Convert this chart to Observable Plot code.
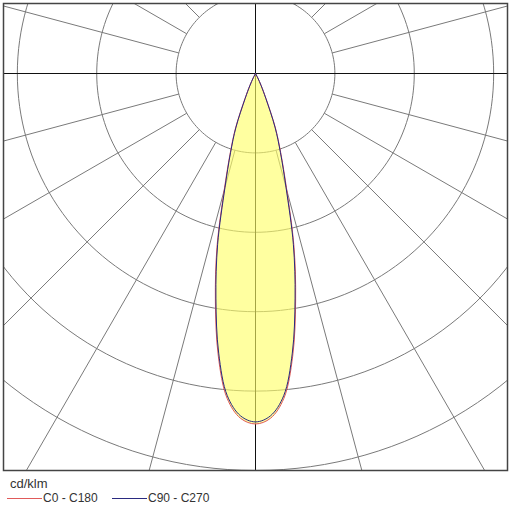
<!DOCTYPE html>
<html>
<head>
<meta charset="utf-8">
<script src="https://cdn.jsdelivr.net/npm/d3@7"></script>
<script src="https://cdn.jsdelivr.net/npm/@observablehq/plot@0.6"></script>
<style>
  html, body { margin: 0; padding: 0; background: #fff; }
  #wrap { width: 510px; position: relative; font-family: "Liberation Sans", Arial, sans-serif; }
  #legend { position: relative; height: 36px; color: #333; }
  .unit { position: absolute; left: 10px; top: 2px; font-size: 13px; }
  .item { position: absolute; top: 17px; font-size: 12px; display: flex; align-items: center; }
  .sw { display: inline-block; width: 35px; height: 0; border-top: 1.3px solid; margin-right: 1px; }
</style>
</head>
<body>
<div id="wrap">
  <div id="chart"></div>
  <div id="legend">
    <div class="unit">cd/klm</div>
    <div class="item" style="left:7px"><span class="sw" style="border-color:#e05a5a"></span>C0 - C180</div>
    <div class="item" style="left:112px"><span class="sw" style="border-color:#2a2a80"></span>C90 - C270</div>
  </div>
</div>
<script>
// gamma angles (deg from nadir) and intensities (cd/klm)
const gamma = [0, 2.5, 5, 7.5, 10, 12.5, 15, 17.5, 20, 22.5, 25, 27.5, 30];
const c0c180 = [2207, 2173, 2053, 1795, 1455, 1121, 762, 535, 372, 183, 88, 31, 0];
const c90c270 = [2194, 2158, 2037, 1776, 1436, 1102, 743, 523, 359, 170, 82, 31, 0];
// polar grid
const ringValues = [500, 1000, 1500, 2000, 2500];
const spokeAngles = [15, 30, 45, 60, 75, 105, 120, 135, 150, 165, 195, 210, 225, 240, 255, 285, 300, 315, 330, 345];
const axisAngles = [0, 90, 180, 270];

const rad = d => d * Math.PI / 180;
function profile(vals) {
  const pts = [];
  for (let i = gamma.length - 1; i >= 1; i--) {
    const g = rad(gamma[i]);
    pts.push({x: -vals[i] * Math.sin(g), y: -vals[i] * Math.cos(g)});
  }
  for (let i = 0; i < gamma.length; i++) {
    const g = rad(gamma[i]);
    pts.push({x: vals[i] * Math.sin(g), y: -vals[i] * Math.cos(g)});
  }
  return pts;
}
const ringPts = [];
for (const r of ringValues) {
  for (let a = 0; a <= 360; a += 2) {
    ringPts.push({ring: r, x: r * Math.sin(rad(a)), y: -r * Math.cos(rad(a))});
  }
}
const spokes = spokeAngles.map(a => ({a, r1: ringValues[0], r2: 3300}));
const axes = axisAngles.map(a => ({a, r1: 0, r2: 3300}));
const sx = (d, k) => d[k] * Math.sin(rad(d.a));
const sy = (d, k) => -d[k] * Math.cos(rad(d.a));

const p0 = profile(c0c180);
const p90 = profile(c90c270);

const chart = Plot.plot({
  width: 510,
  height: 474,
  marginTop: 3, marginRight: 3, marginBottom: 4, marginLeft: 3,
  x: {domain: [-1587.1, 1587.1], axis: null},
  y: {domain: [-2500, 440.9], axis: null},
  marks: [
    Plot.line(ringPts, {x: "x", y: "y", z: "ring", stroke: "#7a7a7a", strokeWidth: 1, clip: true}),
    Plot.link(spokes, {x1: d => sx(d, "r1"), y1: d => sy(d, "r1"), x2: d => sx(d, "r2"), y2: d => sy(d, "r2"), stroke: "#7a7a7a", strokeWidth: 1, clip: true}),
    Plot.link(axes, {x1: d => sx(d, "r1"), y1: d => sy(d, "r1"), x2: d => sx(d, "r2"), y2: d => sy(d, "r2"), stroke: "#111", strokeWidth: 1, clip: true}),
    Plot.line(p0, {x: "x", y: "y", fill: "#ffff66", fillOpacity: 0.62, stroke: "none", curve: "catmull-rom"}),
    Plot.line(p0, {x: "x", y: "y", stroke: "#e05a5a", strokeWidth: 1, curve: "catmull-rom"}),
    Plot.line(p90, {x: "x", y: "y", stroke: "#2a2a80", strokeWidth: 1, curve: "catmull-rom"}),
    Plot.frame({stroke: "#444", strokeWidth: 1.5})
  ]
});
document.getElementById("chart").appendChild(chart);
</script>
</body>
</html>
